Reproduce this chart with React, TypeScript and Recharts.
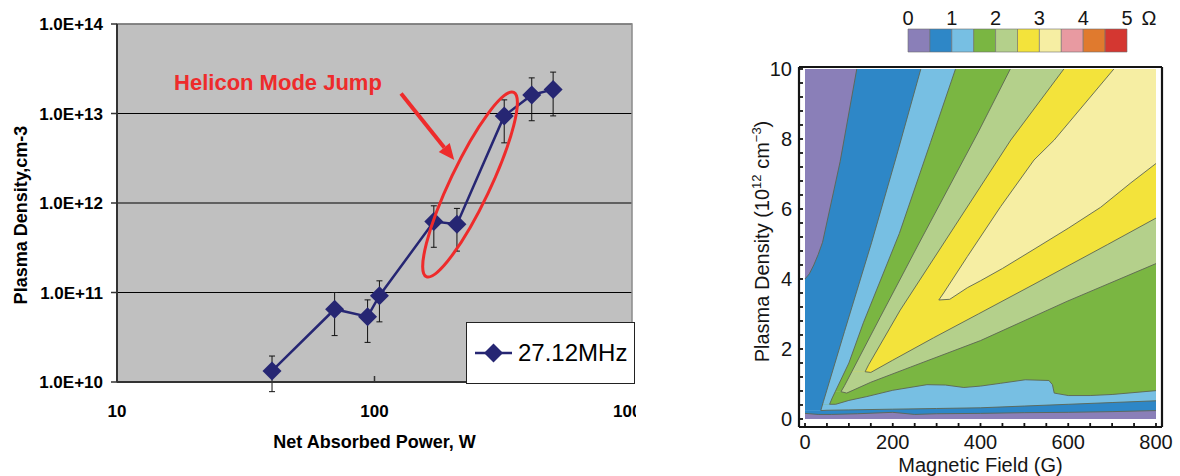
import {
  ComposedChart,
  Line,
  Area,
  XAxis,
  YAxis,
  CartesianGrid,
  ErrorBar,
  ReferenceArea,
  ReferenceDot,
  Label,
  BarChart,
  Bar,
} from 'recharts';

// ---- left panel: density vs net absorbed power (27.12 MHz) ----
const power = [40, 70, 94, 104.5, 170, 209, 319, 408, 494];
const density = [1.33e10, 6.5e10, 5.37e10, 9.2e10, 6.2e11, 5.8e11, 9.4e12, 1.61e13, 1.86e13];
const errorDown = [5.5e9, 3.2e10, 2.6e10, 4.5e10, 3.0e11, 2.9e11, 4.7e12, 7.8e12, 9.2e12];
const errorUp = [6.2e9, 3.5e10, 2.9e10, 4.3e10, 3.1e11, 2.9e11, 4.8e12, 8.9e12, 1.04e13];
const powerTicks = [10, 100, 1000];
const densityTicks = [1e10, 1e11, 1e12, 1e13, 1e14];

// ---- right panel: contour edges [field G, density 1e12 cm-3], upper and lower side of each level ----
const u30 = [[305, 3.4], [316, 3.6], [370, 4.64], [446, 6.07], [522, 7.4], [568, 7.97], [704, 10]];
const l30 = [[305, 3.4], [330, 3.42], [370, 3.75], [400, 3.95], [450, 4.3], [522, 4.85], [600, 5.45], [674, 6.05], [743, 6.75], [800, 7.3]];
const u25 = [[137, 1.35], [145, 1.55], [217, 3.11], [343, 5.54], [469, 7.97], [590, 10]];
const l25 = [[137, 1.35], [150, 1.33], [200, 1.68], [293, 2.32], [395, 3.0], [522, 3.85], [689, 4.98], [800, 5.74]];
const u20 = [[82, 0.78], [90, 0.95], [171, 2.9], [259, 5.0], [395, 8.2], [468, 10]];
const l20 = [[82, 0.78], [95, 0.74], [150, 1.05], [240, 1.48], [400, 2.24], [597, 3.36], [800, 4.44]];
const u15 = [[56, 0.42], [62, 0.6], [100, 1.6], [133, 2.75], [215, 5.3], [286, 7.9], [343, 10]];
const l15 = [[56, 0.42], [70, 0.42], [100, 0.53], [141, 0.64], [200, 0.82], [278, 0.98], [320, 0.97], [362, 0.9], [400, 0.94], [446, 1.02], [502, 1.12], [556, 1.1], [564, 0.98], [568, 0.74], [600, 0.67], [650, 0.67], [700, 0.7], [800, 0.81]];
const u10 = [[36, 0.24], [42, 0.5], [90, 2.5], [152, 5.05], [206, 7.4], [264, 10]];
const l10 = [[36, 0.24], [50, 0.25], [100, 0.26], [200, 0.28], [300, 0.3], [400, 0.32], [500, 0.37], [600, 0.42], [700, 0.47], [800, 0.52]];
const u05 = [[0, 4.0], [10, 4.15], [20, 4.4], [30, 4.7], [40, 5.05], [80, 7.35], [118, 10]];
const l05 = [[0, 0.16], [30, 0.13], [60, 0.13], [120, 0.15], [200, 0.19], [250, 0.13], [300, 0.15], [400, 0.16], [500, 0.18], [600, 0.19], [700, 0.21], [800, 0.24]];

const upperEdges = [u30, u25, u20, u15, u10, u05];
const lowerEdges = [l30, l25, l20, l15, l10, l05];

const fieldTicks = [0, 50, 100, 150, 200, 250, 300, 350, 400, 450, 500, 550, 600, 650, 700, 750, 800];
const fieldMajor = [0, 200, 400, 600, 800];
const densityLinTicks = [0, 0.4, 0.8, 1.2, 1.6, 2, 2.4, 2.8, 3.2, 3.6, 4, 4.4, 4.8, 5.2, 5.6, 6, 6.4, 6.8, 7.2, 7.6, 8, 8.4, 8.8, 9.2, 9.6, 10];
const densityMajor = [0, 2, 4, 6, 8, 10];

// colour scale, 0..5 ohm in steps of 0.5
const scaleColors = ['#8a7fb8', '#2e87c7', '#77bfe3', '#7ab642', '#b4d08b', '#f3e33b', '#f6eea3', '#e89aa1', '#e07a2e', '#d43731'];
const scaleCells = [0.5, 0.5, 0.5, 0.5, 0.5, 0.5, 0.5, 0.5, 0.5, 0.5];
const scaleTicks = [0, 1, 2, 3, 4, 5];

const FONT = '"Liberation Sans", Arial, sans-serif';
const NAVY = '#262673';
const RED = '#ee2b2b';
const INK = '#151515';
const FIELD_DOMAIN = [-13.7, 813.7];
const DENS_DOMAIN = [-0.229, 10.057];

const points = power.map((p, i) => ({
  power: p,
  density: density[i],
  err: [errorDown[i], errorUp[i]],
}));

// band fill on the lower-value side of every edge
const edgeFills = scaleColors.slice(0, 6).reverse();

const upperRows = (edge: number[][]) => {
  const rows = edge[0][0] > 0 ? [[0, edge[0][1]], ...edge] : edge;
  return rows.map(([g, d]) => ({ g, band: [d, 10] }));
};
const lowerRows = (edge: number[][]) => {
  const rows = edge[0][0] > 0 ? [[0, edge[0][1]], ...edge] : edge;
  return rows.map(([g, d]) => ({ g, band: [0, d] }));
};
const lineRows = (edge: number[][]) => edge.map(([g, d]) => ({ g, d }));

const Diamond = (props: any) => {
  const { cx, cy } = props;
  if (cx == null || cy == null) return <g />;
  const r = 9.5;
  return <polygon points={`${cx},${cy - r} ${cx + r},${cy} ${cx},${cy + r} ${cx - r},${cy}`} fill={NAVY} />;
};

const PowerTick = (props: any) => {
  const { x, y, payload } = props;
  return (
    <text x={x} y={y + 35} textAnchor="middle" fontSize={17} fontWeight="bold" fill="#000" fontFamily={FONT}>
      {payload.value}
    </text>
  );
};

const JumpNote = (props: any) => {
  const { cx, cy } = props;
  if (cx == null || cy == null) return <g />;
  return (
    <g>
      <ellipse cx={cx} cy={cy} rx={102} ry={20} transform={`rotate(-64.6 ${cx} ${cy})`} fill="none" stroke={RED} strokeWidth={3} />
      <line x1={cx - 69} y1={cy - 91} x2={cx - 25.8} y2={cy - 37} stroke={RED} strokeWidth={4} />
      <polygon
        points={`${cx - 15.8},${cy - 24.5} ${cx - 31.3},${cy - 32.6} ${cx - 20.3},${cy - 41.4}`}
        fill={RED}
      />
      <text x={cx - 296} y={cy - 94.5} fill={RED} fontSize={22} fontWeight="bold" fontFamily={FONT}>
        Helicon Mode Jump
      </text>
    </g>
  );
};

const FieldLabel = (props: any) => {
  const { x, y, payload } = props;
  if (payload.value % 200 !== 0) return <g />;
  return (
    <text x={x} y={y + 22} textAnchor="middle" fontSize={20} fill={INK} fontFamily={FONT}>
      {payload.value}
    </text>
  );
};

const DensityLabel = (props: any) => {
  const { x, y, payload } = props;
  const v = payload.value;
  if (!(Number.isInteger(v) && v % 2 === 0)) return <g />;
  return (
    <text x={x - 7} y={y + 7} textAnchor="end" fontSize={20} fill={INK} fontFamily={FONT}>
      {v}
    </text>
  );
};

const ScaleTick = (props: any) => {
  const { x, y, payload } = props;
  return (
    <g>
      <text x={x} y={y - 4} textAnchor="middle" fontSize={20} fill={INK} fontFamily={FONT}>
        {payload.value}
      </text>
      {payload.value === 5 && (
        <text x={x + 22} y={y - 4} textAnchor="middle" fontSize={20} fill={INK} fontFamily={FONT}>
          Ω
        </text>
      )}
    </g>
  );
};

const tickStroke = { stroke: INK, strokeWidth: 1.8 };
const frameLine = { stroke: INK, strokeWidth: 2.2 };

const App = () => {
  return (
    <div style={{ position: 'absolute', left: 0, top: 0, width: 1180, height: 476, background: '#fff', fontFamily: FONT }}>
      {/* left panel */}
      <div style={{ position: 'absolute', left: 0, top: 0 }}>
        <ComposedChart width={636} height={476} data={points} margin={{ top: 24, right: 4, bottom: 0, left: 0 }}>
          <CartesianGrid vertical={false} stroke="#000" strokeWidth={1} fill="#c0c0c0" fillOpacity={1} />
          <ReferenceArea x1={10} x2={1000} y1={1e10} y2={1e14} fill="none" stroke="#8a8a8a" strokeWidth={1.5} />
          <Line
            dataKey="density"
            stroke={NAVY}
            strokeWidth={2.5}
            dot={(p: any) => <Diamond key={`d${p.index}`} {...p} />}
            activeDot={false}
            isAnimationActive={false}
          >
            <ErrorBar dataKey="err" width={3} stroke="#111" strokeWidth={1} direction="y" />
          </Line>
          <ReferenceDot x={235} y={1.61e12} r={0} shape={(p: any) => <JumpNote {...p} />} />
          <XAxis
            dataKey="power"
            type="number"
            scale="log"
            domain={[10, 1000]}
            allowDataOverflow
            ticks={powerTicks}
            interval={0}
            tickSize={-6}
            tickMargin={6}
            tickLine={{ stroke: '#333', strokeWidth: 1.5 }}
            tick={(p: any) => <PowerTick {...p} />}
            height={94}
            axisLine={{ stroke: '#333', strokeWidth: 2 }}
          >
            <Label
              content={(p: any) => {
                const vb = p.viewBox || { x: 117, y: 382, width: 515 };
                return (
                  <text x={vb.x + vb.width / 2} y={vb.y + 65.5} textAnchor="middle" fontSize={18} fontWeight="bold" fill="#000" fontFamily={FONT}>
                    Net Absorbed Power, W
                  </text>
                );
              }}
            />
          </XAxis>
          <YAxis
            type="number"
            scale="log"
            domain={[1e10, 1e14]}
            allowDataOverflow
            ticks={densityTicks}
            interval={0}
            width={117}
            tickSize={6}
            tickMargin={8}
            tickLine={{ stroke: '#333', strokeWidth: 1.5 }}
            axisLine={{ stroke: '#333', strokeWidth: 2 }}
            tick={{ fontSize: 17, fontWeight: 'bold', fill: '#000', fontFamily: FONT }}
            tickFormatter={(v: number) => v.toExponential(1).toUpperCase()}
          >
            <Label
              content={(p: any) => {
                const vb = p.viewBox || { x: 0, y: 24, width: 117, height: 358 };
                const cx = vb.x + 26.5;
                const cy = vb.y + vb.height / 2 + 12;
                return (
                  <text x={cx} y={cy} transform={`rotate(-90 ${cx} ${cy})`} textAnchor="middle" fontSize={18} fontWeight="bold" fill="#000" fontFamily={FONT}>
                    Plasma Density,cm-3
                  </text>
                );
              }}
            />
          </YAxis>
        </ComposedChart>
      </div>

      {/* left legend box */}
      <div
        style={{
          position: 'absolute',
          left: 466,
          top: 322,
          width: 169,
          height: 62,
          boxSizing: 'border-box',
          border: '1.5px solid #222',
          background: '#fff',
          display: 'flex',
          alignItems: 'center',
        }}
      >
        <svg width={37} height={24} style={{ marginLeft: 8 }}>
          <line x1={0} x2={37} y1={12} y2={12} stroke={NAVY} strokeWidth={2.5} />
          <polygon points="18.5,2.5 28,12 18.5,21.5 9,12" fill={NAVY} />
        </svg>
        <span style={{ fontSize: 24, marginLeft: 6, color: '#000' }}>27.12MHz</span>
      </div>

      {/* right panel: contour map */}
      <div style={{ position: 'absolute', left: 700, top: 0 }}>
        <ComposedChart width={480} height={476} margin={{ top: 0, right: 0, bottom: 0, left: 0 }}>
          <Area
            data={[{ g: 0, band: [0, 10] }, { g: 800, band: [0, 10] }]}
            dataKey="band"
            type="linear"
            fill={scaleColors[6]}
            fillOpacity={1}
            stroke="none"
            dot={false}
            activeDot={false}
            isAnimationActive={false}
          />
          {upperEdges.map((edge, i) => [
            <Area
              key={`up${i}`}
              data={upperRows(edge)}
              dataKey="band"
              type="linear"
              fill={edgeFills[i]}
              fillOpacity={1}
              stroke="none"
              dot={false}
              activeDot={false}
              isAnimationActive={false}
            />,
            <Area
              key={`lo${i}`}
              data={lowerRows(lowerEdges[i])}
              dataKey="band"
              type="linear"
              fill={edgeFills[i]}
              fillOpacity={1}
              stroke="none"
              dot={false}
              activeDot={false}
              isAnimationActive={false}
            />,
          ])}
          {[...upperEdges, ...lowerEdges].map((edge, i) => (
            <Line
              key={`edge${i}`}
              data={lineRows(edge)}
              dataKey="d"
              type="linear"
              stroke="#5c6552"
              strokeWidth={0.9}
              dot={false}
              activeDot={false}
              isAnimationActive={false}
            />
          ))}

          {/* frame axes with short inward ticks */}
          <XAxis
            dataKey="g"
            type="number"
            domain={FIELD_DOMAIN}
            allowDataOverflow
            ticks={fieldTicks}
            interval={0}
            tickSize={-4}
            tickMargin={4}
            tickLine={tickStroke}
            tick={(p: any) => <FieldLabel {...p} />}
            height={49}
            axisLine={frameLine}
          >
            <Label
              content={(p: any) => {
                const vb = p.viewBox || { x: 99, y: 427, width: 363 };
                return (
                  <text x={vb.x + vb.width / 2} y={vb.y + 45} textAnchor="middle" fontSize={20} fill={INK} fontFamily={FONT}>
                    Magnetic Field (G)
                  </text>
                );
              }}
            />
          </XAxis>
          <XAxis
            xAxisId="top"
            orientation="top"
            dataKey="g"
            type="number"
            domain={FIELD_DOMAIN}
            allowDataOverflow
            ticks={fieldTicks}
            interval={0}
            tickSize={-4}
            tickLine={tickStroke}
            tick={false}
            height={67}
            axisLine={frameLine}
          />
          <YAxis
            type="number"
            domain={DENS_DOMAIN}
            allowDataOverflow
            ticks={densityLinTicks}
            interval={0}
            tickSize={-4}
            tickMargin={4}
            tickLine={tickStroke}
            tick={(p: any) => <DensityLabel {...p} />}
            width={99}
            axisLine={frameLine}
          >
            <Label
              content={(p: any) => {
                const vb = p.viewBox || { x: 0, y: 67, width: 99, height: 360 };
                const cx = vb.x + 69;
                const cy = vb.y + vb.height / 2 - 5.5;
                return (
                  <text x={cx} y={cy} transform={`rotate(-90 ${cx} ${cy})`} textAnchor="middle" fontSize={20} fill={INK} fontFamily={FONT}>
                    Plasma Density (10
                    <tspan dy={-8} fontSize={13}>12</tspan>
                    <tspan dy={8}> cm</tspan>
                    <tspan dy={-8} fontSize={13}>−3</tspan>
                    <tspan dy={8}>)</tspan>
                  </text>
                );
              }}
            />
          </YAxis>
          <YAxis
            yAxisId="right"
            orientation="right"
            type="number"
            domain={DENS_DOMAIN}
            allowDataOverflow
            ticks={densityLinTicks}
            interval={0}
            tickSize={-4}
            tickLine={tickStroke}
            tick={false}
            width={18}
            axisLine={frameLine}
          />

          {/* longer major ticks, mirrored inside the frame */}
          <XAxis xAxisId="bMajor" mirror dataKey="g" type="number" domain={FIELD_DOMAIN} allowDataOverflow ticks={fieldMajor} interval={0} tickSize={8} tickLine={tickStroke} tick={false} axisLine={false} height={10} />
          <XAxis xAxisId="tMajor" mirror orientation="top" dataKey="g" type="number" domain={FIELD_DOMAIN} allowDataOverflow ticks={fieldMajor} interval={0} tickSize={8} tickLine={tickStroke} tick={false} axisLine={false} height={10} />
          <YAxis yAxisId="lMajor" mirror type="number" domain={DENS_DOMAIN} allowDataOverflow ticks={densityMajor} interval={0} tickSize={8} tickLine={tickStroke} tick={false} axisLine={false} width={10} />
          <YAxis yAxisId="rMajor" mirror orientation="right" type="number" domain={DENS_DOMAIN} allowDataOverflow ticks={densityMajor} interval={0} tickSize={8} tickLine={tickStroke} tick={false} axisLine={false} width={10} />
        </ComposedChart>
      </div>

      {/* colour scale */}
      <div style={{ position: 'absolute', left: 900, top: 0 }}>
        <BarChart
          width={280}
          height={60}
          layout="vertical"
          data={[Object.fromEntries(scaleCells.map((w, i) => [`c${i}`, w]))]}
          margin={{ top: 0, right: 53, bottom: 8, left: 8 }}
          barCategoryGap={0}
        >
          <XAxis
            type="number"
            orientation="top"
            domain={[0, 5]}
            ticks={scaleTicks}
            interval={0}
            tickSize={0}
            tickMargin={0}
            tickLine={false}
            axisLine={false}
            height={29}
            tick={(p: any) => <ScaleTick {...p} />}
          />
          <YAxis type="category" hide />
          {scaleCells.map((_, i) => (
            <Bar
              key={`c${i}`}
              dataKey={`c${i}`}
              stackId="scale"
              fill={scaleColors[i]}
              stroke="#6d6d6d"
              strokeWidth={0.6}
              isAnimationActive={false}
            />
          ))}
        </BarChart>
      </div>
    </div>
  );
};

export default App;
